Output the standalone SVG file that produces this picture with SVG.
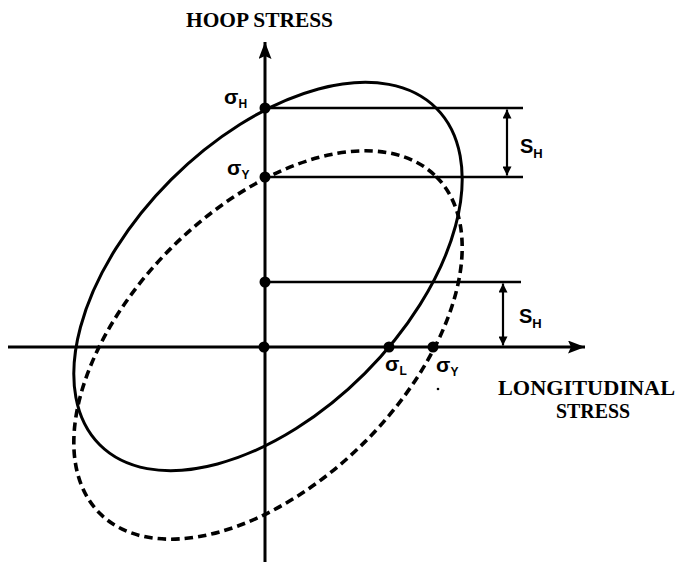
<svg xmlns="http://www.w3.org/2000/svg" width="680" height="562" viewBox="0 0 680 562">
<style>
.ax{stroke:#000;stroke-width:3;fill:none}
.ln{stroke:#000;stroke-width:2.6;fill:none}
.dim{stroke:#000;stroke-width:2.2;fill:none}
.ell{stroke:#000;stroke-width:3;fill:none}
.dash{stroke:#000;stroke-width:3.6;fill:none;stroke-dasharray:8.5 5}
.dot{fill:#000}
.ttl{font-family:"Liberation Serif","Times New Roman",serif;font-weight:bold;fill:#000}
.sym{font-family:"Liberation Sans",Arial,sans-serif;font-weight:bold;fill:#000}
</style>
<defs>
<marker id="ah" viewBox="0 0 10 10" refX="10" refY="5" markerWidth="10" markerHeight="9" markerUnits="userSpaceOnUse" orient="auto-start-reverse">
<path d="M0,0 L10,5 L0,10 Z" fill="#000"/>
</marker>
<marker id="big" viewBox="0 0 17 13" refX="17" refY="6.5" markerWidth="17" markerHeight="13" markerUnits="userSpaceOnUse" orient="auto">
<path d="M0,0 L17,6.5 L0,13 L3,6.5 Z" fill="#000"/>
</marker>
</defs>

<g id="axes">
<line class="ax" x1="265" y1="562" x2="265" y2="42" marker-end="url(#big)"/>
<line class="ax" x1="8" y1="347" x2="585" y2="347" marker-end="url(#big)"/>
</g>

<g id="solid-ellipse">
<ellipse class="ell" cx="268" cy="276.5" rx="238" ry="137" transform="rotate(-45 268 276.5)"/>
</g>
<g id="dashed-ellipse">
<ellipse class="dash" cx="268" cy="276.5" rx="238" ry="137" transform="translate(0 68.5) rotate(-45 268 276.5)"/>
</g>

<g id="connectors">
<line class="ln" x1="265" y1="108" x2="523" y2="108"/>
<line class="ln" x1="265" y1="177" x2="523" y2="177"/>
<line class="ln" x1="265" y1="282" x2="521" y2="282"/>
<line class="dim" x1="507" y1="143" x2="507" y2="109.5" marker-end="url(#ah)"/>
<line class="dim" x1="507" y1="143" x2="507" y2="175.5" marker-end="url(#ah)"/>
<line class="dim" x1="503" y1="314" x2="503" y2="283.5" marker-end="url(#ah)"/>
<line class="dim" x1="503" y1="314" x2="503" y2="345.5" marker-end="url(#ah)"/>
</g>

<g id="points">
<circle class="dot" cx="265" cy="108" r="5.5"/>
<circle class="dot" cx="265" cy="177" r="5.5"/>
<circle class="dot" cx="265" cy="282" r="5.5"/>
<circle class="dot" cx="264" cy="347" r="5.5"/>
<circle class="dot" cx="389" cy="347" r="5.5"/>
<circle class="dot" cx="433" cy="347" r="5.5"/>
<circle class="dot" cx="438" cy="389" r="1.3"/>
</g>

<g id="labels">
<text class="ttl" x="186" y="27" font-size="21" textLength="147" lengthAdjust="spacingAndGlyphs">HOOP STRESS</text>
<text class="ttl" x="498" y="395" font-size="22" textLength="177" lengthAdjust="spacingAndGlyphs">LONGITUDINAL</text>
<text class="ttl" x="593" y="418" font-size="21" text-anchor="middle" textLength="74" lengthAdjust="spacingAndGlyphs">STRESS</text>
<text class="sym" x="224" y="104" font-size="21">σ<tspan font-size="12" dy="4">H</tspan></text>
<text class="sym" x="227" y="175" font-size="21">σ<tspan font-size="12" dy="4">Y</tspan></text>
<text class="sym" x="385" y="371" font-size="21">σ<tspan font-size="12" dy="4">L</tspan></text>
<text class="sym" x="436" y="372" font-size="21">σ<tspan font-size="12" dy="4">Y</tspan></text>
<text class="sym" x="520" y="153" font-size="20">S<tspan font-size="13" dy="5">H</tspan></text>
<text class="sym" x="519" y="323" font-size="20">S<tspan font-size="13" dy="5">H</tspan></text>
</g>
</svg>
